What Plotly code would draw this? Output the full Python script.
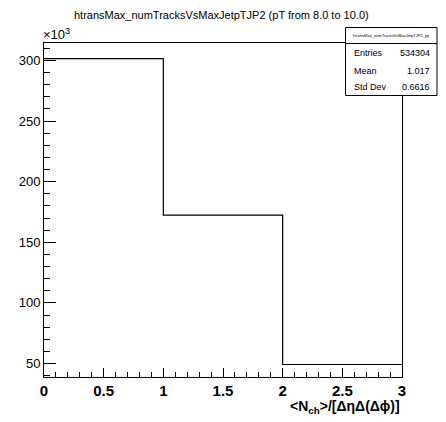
import plotly.graph_objects as go

bin_edges = [0.0, 1.0, 2.0, 3.0]
counts_k = [301.5, 172.5, 49.2]  # in units of 10^3
title_text = "htransMax_numTracksVsMaxJetpTJP2 (pT from 8.0 to 10.0)"
stats_name = "htransMax_numTracksVsMaxJetpTJP2_py"
stats_labels = ["Entries", "Mean", "Std Dev"]
stats_values = ["534304", "1.017", "0.6616"]
x_ticks = [0, 0.5, 1, 1.5, 2, 2.5, 3]
x_ticklabels = ["0", "0.5", "1", "1.5", "2", "2.5", "3"]
y_ticks = [50, 100, 150, 200, 250, 300]

step_x = list(bin_edges)
step_y = list(counts_k) + [counts_k[-1]]

FONT = "Liberation Sans, Arial, Helvetica, sans-serif"

fig = go.Figure()
fig.add_trace(go.Scatter(x=step_x, y=step_y, mode="lines", line=dict(shape="hv", color="black", width=1.2),
                         showlegend=False, hoverinfo="skip"))

OFF = 8  # page body margin
W, H = 446 - OFF, 422 - OFF
# desired window-pixel plot area: x 44..402, y 43..377
PX0, PX1, PY0, PY1 = 44, 402, 43, 377
L, T = PX0 - OFF, PY0 - OFF
R = W - (PX1 - OFF)
B = H - (PY1 - OFF)

fig.update_layout(
    width=W, height=H,
    margin=dict(l=L, r=R, t=T, b=B, pad=0, autoexpand=False),
    paper_bgcolor="white", plot_bgcolor="white",
    font=dict(family=FONT, color="black"),
    showlegend=False,
    xaxis=dict(range=[0, 3], tickvals=x_ticks, ticktext=x_ticklabels, ticks="inside", ticklen=9,
               tickwidth=1, tickcolor="black", showgrid=False, zeroline=False, automargin=False,
               showline=True, linecolor="black", linewidth=1, mirror=True,
               tickfont=dict(family=FONT, size=15, color="black", weight="bold"),
               minor=dict(dtick=0.1, ticks="inside", ticklen=5, tickcolor="black", showgrid=False)),
    yaxis=dict(range=[38.9, 314.4], tickvals=y_ticks, ticks="inside", ticklen=12,
               tickwidth=1, tickcolor="black", showgrid=False, zeroline=False, automargin=False,
               showline=True, linecolor="black", linewidth=1, mirror=True,
               tickfont=dict(family=FONT, size=13, color="black"),
               minor=dict(dtick=10, ticks="inside", ticklen=6, tickcolor="black", showgrid=False)),
)


def px(xw):
    return (xw - PX0) / (PX1 - PX0)


def py(yw):
    return (PY1 - yw) / (PY1 - PY0)


# title
fig.add_annotation(text=title_text, xref="paper", yref="paper", x=px(221.5), y=py(15),
                   yanchor="middle", xanchor="center", showarrow=False, font=dict(size=11, family=FONT))
# exponent
fig.add_annotation(text="×10<sup>3</sup>", xref="paper", yref="paper", x=px(41), y=py(34),
                   yanchor="middle", xanchor="left", showarrow=False, font=dict(size=13, family=FONT))
# x axis title
fig.add_annotation(text="<b>&lt;N<sub>ch</sub>&gt;/[ΔηΔ(Δϕ)]</b>", xref="paper", yref="paper", x=px(402),
                   y=py(407), yanchor="middle", xanchor="right", showarrow=False,
                   font=dict(size=14, family=FONT))

# stats box
bx0, bx1, by0, by1, bhdr = 345.5, 437, 27.5, 95.5, 43.5
fig.add_shape(type="rect", xref="paper", yref="paper", x0=px(bx0), x1=px(bx1), y0=py(by1), y1=py(by0),
              line=dict(color="black", width=1), fillcolor="white", layer="above")
fig.add_shape(type="line", xref="paper", yref="paper", x0=px(bx0), x1=px(bx1), y0=py(bhdr), y1=py(bhdr),
              line=dict(color="black", width=1), layer="above")
fig.add_annotation(text=stats_name, xref="paper", yref="paper", x=px((bx0 + bx1) / 2), y=py(35.5),
                   xanchor="center", yanchor="middle", showarrow=False, font=dict(size=4, family=FONT))
row_y = [53, 70.5, 87]
for lab, val, yy in zip(stats_labels, stats_values, row_y):
    fig.add_annotation(text=lab, xref="paper", yref="paper", x=px(351.5), y=py(yy), xanchor="left",
                       yanchor="middle", showarrow=False, font=dict(size=9, family=FONT))
    fig.add_annotation(text=val, xref="paper", yref="paper", x=px(432), y=py(yy), xanchor="right",
                       yanchor="middle", showarrow=False, font=dict(size=9, family=FONT))

fig.write_html("out.html")
